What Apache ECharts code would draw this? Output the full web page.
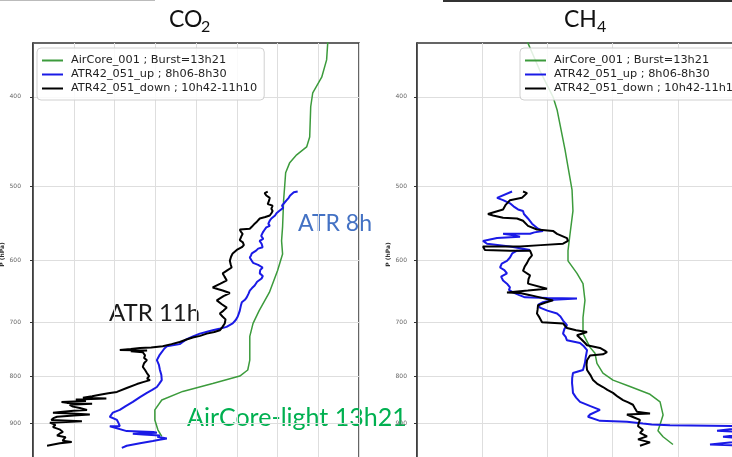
<!DOCTYPE html>
<html>
<head>
<meta charset="utf-8">
<script src="https://cdn.jsdelivr.net/npm/echarts@6.0.0/dist/echarts.min.js"></script>
<style>html,body{margin:0;padding:0;background:#fff;}#c{width:732px;height:457px;}</style>
</head>
<body>
<div id="c"></div>
<script>
// ---------- data ----------
const seriesNames = ['AirCore_001 ; Burst=13h21', 'ATR42_051_up ; 8h06-8h30', 'ATR42_051_down ; 10h42-11h10'];
const pressureTicks = [400, 500, 600, 700, 800, 900];

// CO2 (ppm) panel
const co2AirCoreP = [346,365,381,396,410,442,453,462,471,483,500,517,552,572,591,616,650,680,702,725,769,788,800,815,831,849,870,892,914,929];
const co2AirCoreX = [414.48,414.41,414.17,413.73,413.63,413.58,413.43,412.94,412.6,412.4,412.35,412.3,412.25,412.2,412.25,412.0,411.6,411.1,410.8,410.64,410.64,410.54,410.15,408.82,407.35,406.32,405.98,405.98,406.13,406.32];

const co2UpP = [506,507,509,511,514,517,520,524,527,531,534,537,541,544,548,551,553,557,560,565,569,572,576,581,583,586,590,593,596,600,604,607,611,615,620,624,628,633,639,643,647,652,658,662,666,672,680,685,690,696,702,708,711,714,717,720,725,730,735,739,743,747,750,760,769,778,788,798,808,815,822,828,834,843,853,862,870,876,885,892,899,906,906,910,917,919,921,923,925,927,930,934,937,940,945,951,956];
const co2UpX = [412.99,412.80,412.85,412.62,412.55,412.45,412.35,412.22,412.28,412.08,411.95,411.88,411.70,411.62,411.55,411.62,411.45,411.35,411.28,411.20,411.30,411.12,411.22,411.27,411.05,410.95,410.74,410.70,410.64,410.72,410.80,411.05,411.27,411.15,411.13,411.28,411.22,411.00,410.88,410.75,410.64,410.58,410.49,410.40,410.25,410.20,410.15,410.10,410.05,409.95,409.80,409.50,409.20,408.82,408.50,408.19,407.85,407.55,407.35,407.20,406.57,406.45,406.37,406.20,406.08,406.18,406.23,406.30,406.32,406.20,406.08,405.85,405.59,405.25,404.90,404.55,404.26,403.92,403.77,404.12,404.20,404.26,403.77,403.68,404.60,405.90,406.08,404.90,405.40,406.23,406.10,406.57,406.20,405.88,405.25,404.60,404.36];

const co2DownP = [506,508,511,514,518,522,524,528,531,534,537,539,541,545,548,552,555,556,559,562,566,571,574,576,578,581,585,590,595,601,606,611,615,620,625,631,636,642,645,647,651,656,663,669,675,680,685,690,695,702,708,714,717,720,724,727,731,735,739,743,745,746,748,750,751,752,754,760,765,769,775,782,788,794,800,805,808,812,816,824,832,835,838,841,844,846,848,851,853,855,857,859,863,866,870,872,874,876,878,880,882,885,888,892,895,898,903,908,913,919,923,927,931,934,939,942,945,948,951];
const co2DownX = [411.52,411.37,411.45,411.62,411.58,411.52,411.76,411.70,411.76,411.70,411.62,411.40,411.13,411.00,410.88,410.75,410.64,410.15,410.20,410.29,410.22,410.15,410.30,410.39,410.35,410.25,410.00,409.80,409.72,409.66,409.70,409.75,409.55,409.31,409.40,409.51,409.20,408.82,409.10,409.31,409.66,409.35,409.02,409.25,409.51,409.35,409.17,409.30,409.45,409.41,409.30,409.17,408.90,408.53,408.20,407.84,407.50,407.20,406.80,406.37,405.80,405.25,404.80,404.26,405.60,404.80,405.39,405.50,405.45,405.59,405.45,405.39,405.50,405.59,405.70,405.60,405.74,405.40,405.10,404.60,404.12,403.70,403.28,402.90,402.45,403.60,402.10,402.60,401.40,401.67,402.90,401.80,401.96,402.30,402.65,402.00,401.47,400.98,401.90,402.79,402.00,401.18,401.00,400.90,402.40,400.83,401.10,400.98,401.30,401.47,401.30,401.18,401.60,401.67,401.45,401.90,401.32,401.00,400.69];

// CH4 (ppb) panel
const ch4AirCoreP = [346,375,400,413,456,476,504,531,563,586,601,620,636,663,692,720,745,756,775,794,808,821,837,853,881,902,916,930,948];
const ch4AirCoreX = [1933.5,1944.3,1954.3,1957.4,1963.5,1965.8,1968.9,1969.6,1967.3,1965.8,1965.8,1972.7,1977.3,1978.8,1977.3,1977.3,1982.7,1986.5,1988.0,1992.6,2000.3,2013.3,2028.7,2036.4,2038.7,2036.4,2034.8,2038.7,2046.3];

const ch4UpP = [506,514,517,521,525,529,531,535,541,548,555,558,560,562,562,564,566,568,572,576,580,585,586,590,596,601,605,611,615,620,625,631,636,642,646,650,654,658,659,660,662,666,670,675,680,685,690,697,705,712,720,726,732,737,743,750,762,774,788,794,804,814,824,834,844,853,862,870,880,885,894,896,900,902,904,906,916,921,930,937,948,952];
const ch4UpX = [1922.9,1911.4,1916.0,1921.3,1924.0,1927.5,1931.3,1932.0,1935.1,1938.2,1942.8,1946.6,1940.0,1936.7,1916.0,1924.0,1929.0,1911.4,1900.6,1903.7,1921.3,1936.7,1926.7,1923.0,1921.3,1919.0,1915.0,1913.7,1917.0,1919.0,1914.5,1916.0,1919.0,1921.3,1920.5,1923.6,1928.0,1932.8,1950.0,1972.7,1955.0,1946.6,1943.0,1944.3,1950.0,1957.4,1960.0,1962.0,1965.0,1963.0,1962.0,1964.0,1965.0,1975.0,1978.0,1980.4,1979.5,1978.8,1977.3,1969.6,1969.0,1968.9,1969.3,1969.6,1972.0,1975.0,1983.0,1990.3,1982.7,1981.1,1990.3,2011.0,2023.3,2030.0,2044.0,2110.0,2080.1,2110.0,2084.7,2110.0,2074.7,2110.0];

const ch4DownP = [506,508,514,517,523,529,535,537,540,541,544,551,556,558,562,568,572,576,578,580,580,585,586,586,593,598,604,610,616,623,629,636,644,647,650,651,654,658,663,667,671,678,685,692,700,702,706,710,714,717,723,730,736,741,746,751,754,758,760,769,778,788,798,808,815,822,828,834,842,849,854,859,866,874,876,878,880,886,892,899,906,914,921,929,936,943,951];
const ch4DownX = [1931.3,1934.4,1930.5,1921.3,1918.0,1916.0,1904.4,1908.3,1916.0,1926.7,1931.3,1935.1,1942.0,1954.3,1957.4,1965.0,1965.8,1962.0,1945.0,1929.0,1900.6,1902.1,1921.3,1936.7,1938.2,1936.0,1934.4,1932.5,1931.3,1936.7,1935.5,1935.1,1949.7,1935.0,1919.0,1929.0,1936.0,1944.3,1954.3,1948.0,1942.8,1942.5,1942.0,1944.0,1945.9,1962.0,1963.5,1965.0,1972.0,1980.4,1972.7,1976.0,1978.5,1980.4,1990.3,1994.0,1995.7,1992.6,1982.7,1980.4,1980.0,1980.4,1983.0,1985.0,1988.0,1992.6,1996.0,2000.3,2004.0,2008.0,2012.0,2015.6,2017.0,2018.7,2024.0,2028.7,2011.0,2016.0,2021.0,2020.0,2019.5,2023.3,2021.0,2026.4,2019.5,2028.7,2021.0];

// ---------- chart ----------
function pairs(xs, ps) { return xs.map((x, i) => [x, ps[i]]); }
const colors = ['#3c9b3c', '#1a1ae6', '#000000'];
const widths = [1.5, 2, 2];

const chart = echarts.init(document.getElementById('c'), null, { renderer: 'canvas' });

function yAxisCfg(gridIndex, margin) {
  return {
    type: 'log', logBase: 10, gridIndex: gridIndex, min: 350, max: 1000, inverse: true,
    name: 'P (hPa)', nameLocation: 'middle', nameGap: 26, nameRotate: 90,
    nameTextStyle: { fontSize: 6, fontWeight: 'bold', color: '#333', fontFamily: 'DejaVu Sans' },
    axisLine: { show: true, lineStyle: { color: '#333', width: 1.5 } },
    axisTick: { show: true, length: 3, customValues: pressureTicks, lineStyle: { color: '#333' } },
    axisLabel: { customValues: pressureTicks, fontSize: 6, color: '#666', margin: margin, fontFamily: 'DejaVu Sans' },
    splitLine: { show: true, lineStyle: { color: '#dedede', width: 1 } },
    minorTick: { show: false }, minorSplitLine: { show: false }
  };
}
function xAxisCfg(gridIndex, min, max, interval) {
  return {
    type: 'value', gridIndex: gridIndex, min: min, max: max, interval: interval,
    axisLine: { show: false }, axisTick: { show: false }, axisLabel: { show: false },
    splitLine: { show: true, lineStyle: { color: '#dedede', width: 1 } }
  };
}
function legendCfg(left) {
  return {
    data: seriesNames, orient: 'vertical', left: left, top: 48,
    icon: 'rect', itemWidth: 21, itemHeight: 2, itemGap: 3,
    padding: [7, 7, 6, 5],
    backgroundColor: 'rgba(255,255,255,0.85)', borderColor: '#d0d0d0', borderWidth: 1, borderRadius: 4,
    textStyle: { fontSize: 11.3, color: '#222', fontFamily: 'DejaVu Sans', padding: [0, 0, 0, 3] },
    selectedMode: false
  };
}
function lineSeries(nameIdx, xi, data) {
  return {
    type: 'line', name: seriesNames[nameIdx], xAxisIndex: xi, yAxisIndex: xi, data: data,
    symbol: 'none', showSymbol: false, clip: true, animation: false,
    lineStyle: { color: colors[nameIdx], width: widths[nameIdx] },
    itemStyle: { color: colors[nameIdx] }
  };
}

const option = {
  backgroundColor: '#ffffff',
  animation: false,
  grid: [
    { left: 33, top: 43, width: 326, height: 423, outerBoundsMode: 'none', containLabel: false, show: true, borderColor: '#333', borderWidth: 1.5, backgroundColor: 'transparent' },
    { left: 417, top: 43, width: 326, height: 423, outerBoundsMode: 'none', containLabel: false, show: true, borderColor: '#333', borderWidth: 1.5, backgroundColor: 'transparent' }
  ],
  xAxis: [xAxisCfg(0, 400, 416, 2), xAxisCfg(1, 1850, 2100, 50)],
  yAxis: [yAxisCfg(0, 12), yAxisCfg(1, 10)],
  legend: [legendCfg(37), legendCfg(520)],
  series: [
    lineSeries(0, 0, pairs(co2AirCoreX, co2AirCoreP)),
    lineSeries(1, 0, pairs(co2UpX, co2UpP)),
    lineSeries(2, 0, pairs(co2DownX, co2DownP)),
    lineSeries(0, 1, pairs(ch4AirCoreX, ch4AirCoreP)),
    lineSeries(1, 1, pairs(ch4UpX, ch4UpP)),
    lineSeries(2, 1, pairs(ch4DownX, ch4DownP))
  ],
  graphic: [
    { type: 'rect', left: 0, top: 0, shape: { width: 155, height: 1 }, style: { fill: '#bbbbbb' }, silent: true },
    { type: 'rect', left: 443, top: 0, shape: { width: 289, height: 2 }, style: { fill: '#333333' }, silent: true },
    { type: 'text', left: 169, top: 8, style: { text: 'CO', font: '23px Lato', fill: '#111' } },
    { type: 'text', left: 201, top: 19, style: { text: '2', font: '16px Lato', fill: '#111' } },
    { type: 'text', left: 564, top: 8, style: { text: 'CH', font: '23px Lato', fill: '#111' } },
    { type: 'text', left: 597, top: 19, style: { text: '4', font: '16px Lato', fill: '#111' } },
    { type: 'text', left: 298, top: 212, style: { text: 'ATR 8h', font: '23px Lato', fill: '#4472c4' } },
    { type: 'text', left: 109, top: 301, style: { text: 'ATR 11h', font: '24px Lato', fill: '#1a1a1a' } },
    { type: 'text', left: 187, top: 405, style: { text: 'AirCore-light 13h21', font: '25px Lato', fill: '#00b050' } }
  ]
};
chart.setOption(option);
</script>
</body>
</html>
